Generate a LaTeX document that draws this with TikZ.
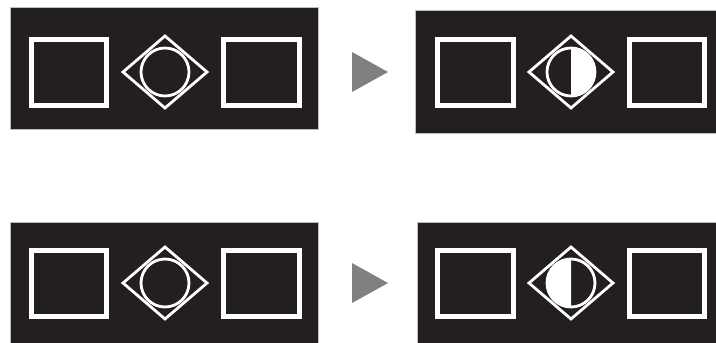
\documentclass[tikz,border=0pt]{standalone}
\usepackage{tikz}

\definecolor{panel}{HTML}{231F20}
\definecolor{pointer}{HTML}{808080}

\tikzset{
  panelbox/.style={fill=panel, draw=gray!50, line width=0.6pt},
  framebox/.style={draw=white, line width=5pt},
  eyebox/.style={draw=white, line width=2.8pt},
}

\begin{document}
\begin{tikzpicture}[x=1pt,y=-1pt]
\useasboundingbox (0,0) rectangle (716,343);

    % Draw the black panels
    \draw[panelbox] (10,7) rectangle (318,129);
    \draw[panelbox] (415,10) rectangle (717,133);
    \draw[panelbox] (10,222) rectangle (318,344);
    \draw[panelbox] (417,222) rectangle (717,344);

    \foreach \cy/\from/\to in {72/90/-90, 283/90/270} {
        % Left panel: squares and eye
        \draw[framebox] (31.5,\cy-33) rectangle (106.5,\cy+33);
        \draw[framebox] (223.5,\cy-33) rectangle (299.5,\cy+33);
        \draw[eyebox] (165,\cy-36) -- (207,\cy) -- (165,\cy+36) -- (123,\cy) -- cycle;
        \draw[eyebox] (165,\cy) circle (24);

        % Arrow in between
        \fill[pointer] (352,\cy-20) -- (388,\cy) -- (352,\cy+20) -- cycle;

        % Right panel: half of the eye filled
        \draw[framebox] (437.5,\cy-33) rectangle (513.5,\cy+33);
        \draw[framebox] (629.5,\cy-33) rectangle (704.5,\cy+33);
        \fill[white] (571,\cy) ++(\from:24) arc (\from:\to:24) -- cycle;
        \draw[eyebox] (571,\cy-36) -- (613,\cy) -- (571,\cy+36) -- (529,\cy) -- cycle;
        \draw[eyebox] (571,\cy) circle (24);
    }

\end{tikzpicture}
\end{document}
